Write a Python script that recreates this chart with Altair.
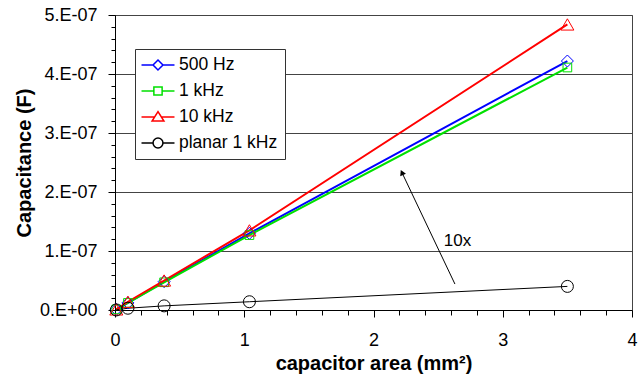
import altair as alt
import pandas as pd

# ---- data ----
series_names = ["500 Hz", "1 kHz", "10 kHz", "planar 1 kHz"]
series_colors = ["#0000FF", "#00E000", "#FF0000", "#000000"]
area = [0.01, 0.1, 0.38, 1.04, 3.5]
c_500hz = [0.01e-7, 0.12e-7, 0.48e-7, 1.30e-7, 4.22e-7]
c_1khz = [0.01e-7, 0.12e-7, 0.47e-7, 1.27e-7, 4.11e-7]
c_10khz = [0.01e-7, 0.14e-7, 0.50e-7, 1.35e-7, 4.84e-7]
c_planar = [0.001e-7, 0.03e-7, 0.07e-7, 0.14e-7, 0.40e-7]

arrow_from = [2.63, 0.44e-7]
arrow_to = [2.22, 2.33e-7]
note_pos = [2.65, 1.17e-7]
note_text = "10x"

x_ticks = [round(i * 0.2, 6) for i in range(21)]
y_ticks = [round(i * 0.2, 6) * 1e-7 for i in range(26)]

rows = []
for name, vals in zip(series_names, [c_500hz, c_1khz, c_10khz, c_planar]):
    for a, v in zip(area, vals):
        rows.append({"area": a, "cap": v, "series": name})
df = pd.DataFrame(rows)

FONT = "Liberation Sans"
XMAJ = "abs(datum.value - round(datum.value)) < 0.001"
YMAJ = "abs(datum.value*1e7 - round(datum.value*1e7)) < 0.01"

x_axis = alt.Axis(
    title="capacitor area (mm²)",
    values=x_ticks,
    labelExpr=XMAJ + " ? format(datum.value, 'd') : ''",
    grid=False,
    labelOverlap=False,
    labelFlush=False,
    tickSize={"condition": {"test": XMAJ, "value": 7}, "value": 5},
    labelPadding=14,
    titlePadding=4,
)
y_axis = alt.Axis(
    title="Capacitance (F)",
    values=y_ticks,
    labelExpr=YMAJ + " ? (round(datum.value*1e7) == 0 ? '0.E+00' : round(datum.value*1e7) + '.E-07') : ''",
    grid=True,
    gridOpacity={"condition": {"test": YMAJ, "value": 1}, "value": 0},
    labelOverlap=False,
    labelFlush=False,
    tickSize={"condition": {"test": YMAJ, "value": 7}, "value": 4},
    labelPadding=11,
    titlePadding=5,
)
x_scale = alt.Scale(domain=[0, 4], nice=False)
y_scale = alt.Scale(domain=[0, 5e-7], nice=False)


def X(field="area"):
    return alt.X(field + ":Q", scale=x_scale, axis=x_axis)


def Y(field="cap"):
    return alt.Y(field + ":Q", scale=y_scale, axis=y_axis)


base = alt.Chart(df)

shapes = {"500 Hz": ("diamond", 144), "1 kHz": ("square", 75), "10 kHz": ("triangle-up", 169), "planar 1 kHz": ("circle", 144)}
line_layers = []
point_layers = []
for name, col in zip(series_names, series_colors):
    shp, sz = shapes[name]
    sw = 1 if name == "planar 1 kHz" else 2
    sub = base.transform_filter(alt.datum.series == name)
    line_layers.append(sub.mark_line(strokeWidth=sw, color=col).encode(x=X(), y=Y()))
    point_layers.append(
        sub.mark_point(shape=shp, size=sz, filled=False, strokeWidth=1, opacity=1, color=col).encode(x=X(), y=Y())
    )

legend_paths = [
    "M-2,0H-0.6M0.6,0H2M0,-0.6L0.6,0L0,0.6L-0.6,0Z",
    "M-2,0H-0.5M0.5,0H2M-0.5,-0.5H0.5V0.5H-0.5Z",
    "M-2,0H-0.41M0.41,0H2M0,-0.65L0.72,0.5H-0.72Z",
    "M-2,0H-0.6M0.6,0H2M0.6,0A0.6,0.6,0,1,1,-0.6,0A0.6,0.6,0,1,1,0.6,0",
]
leg = alt.Legend(
    title=None,
    orient="none",
    legendX=20,
    legendY=34,
    fillColor="white",
    strokeColor="#333333",
    padding=7,
    symbolSize=272,
    symbolStrokeWidth=1.5,
    symbolFillColor="white",
    labelFont=FONT,
    labelFontSize=17.5,
    labelColor="black",
    labelOffset=12,
    rowPadding=8,
    symbolOffset=7,
)
legend_layer = base.transform_filter("false").mark_point(filled=False, opacity=1).encode(
    x=X(),
    y=Y(),
    color=alt.Color("series:N", scale=alt.Scale(domain=series_names, range=series_colors), legend=leg),
    shape=alt.Shape("series:N", scale=alt.Scale(domain=series_names, range=legend_paths), legend=leg),
)

arrow_df = pd.DataFrame({"area": [arrow_from[0]], "cap": [arrow_from[1]], "area2": [arrow_to[0]], "cap2": [arrow_to[1]]})
arrow_line = alt.Chart(arrow_df).mark_rule(color="black", strokeWidth=1).encode(
    x=X(), y=Y(), x2="area2:Q", y2="cap2:Q"
)
head_df = pd.DataFrame({"area": [arrow_to[0]], "cap": [arrow_to[1]]})
arrow_head = alt.Chart(head_df).mark_point(shape="triangle-up", filled=True, color="black", size=40, angle=335, opacity=1).encode(
    x=X(), y=Y()
)
note_df = pd.DataFrame({"area": [note_pos[0]], "cap": [note_pos[1]], "t": [note_text]})
note = alt.Chart(note_df).mark_text(font=FONT, fontSize=17, color="black", align="center", baseline="middle").encode(
    x=X(), y=Y(), text="t:N"
)

chart = (
    alt.layer(*line_layers, *point_layers, legend_layer, arrow_line, arrow_head, note)
    .properties(
        width=517,
        height=295,
        autosize=alt.AutoSizeParams(type="none"),
        padding={"left": 115, "top": 15, "right": 9, "bottom": 68},
        background="white",
    )
    .configure_view(stroke="#444444", strokeWidth=1)
    .configure_axis(
        labelFont=FONT,
        labelFontSize=18,
        labelColor="black",
        titleFont=FONT,
        titleFontSize=20,
        titleFontWeight="bold",
        titleColor="black",
        domainColor="black",
        tickColor="black",
        gridColor="#444444",
        gridWidth=1,
    )
)

chart.save("out.html", embed_options={"renderer": "svg", "actions": False})
